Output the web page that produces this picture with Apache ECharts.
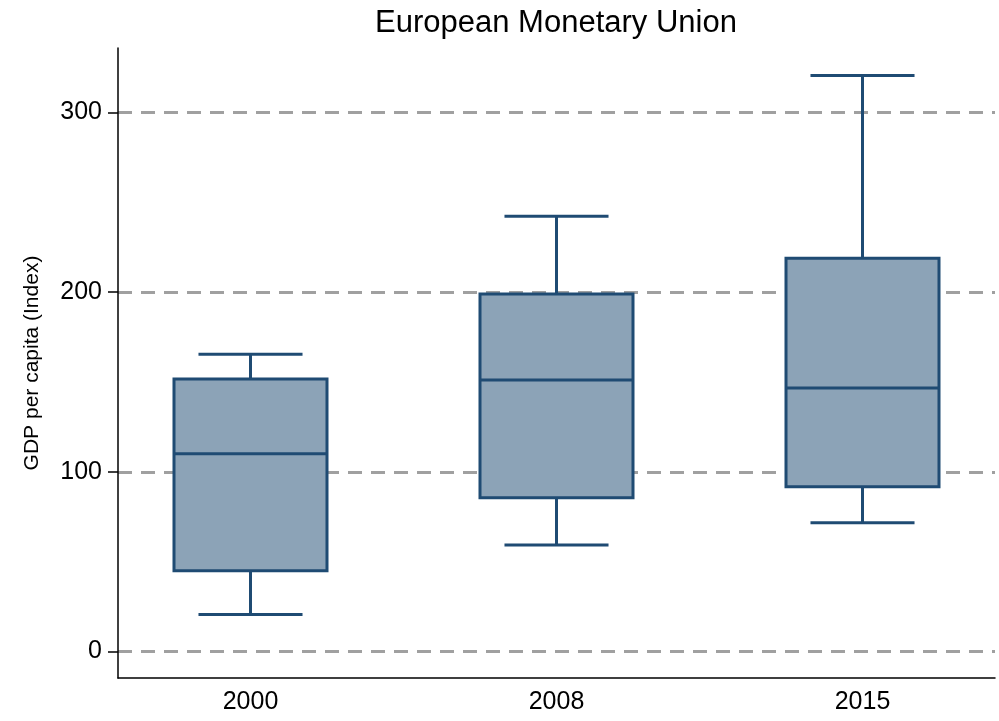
<!DOCTYPE html>
<html>
<head>
<meta charset="utf-8">
<title>European Monetary Union</title>
<script src="https://cdn.jsdelivr.net/npm/echarts@6/dist/echarts.min.js"></script>
<style>
  html, body { margin: 0; padding: 0; background: #fff; }
  #chart { width: 999px; height: 721px; }
</style>
</head>
<body>
<div id="chart"></div>
<script>
// box plot values (GDP per capita index)
const years = ['2000', '2008', '2015'];
const whiskerLow = [20.6, 59.3, 71.6];
const q1 = [44.9, 85.5, 91.6];
const median = [110.1, 151.1, 146.7];
const q3 = [151.7, 198.9, 218.8];
const whiskerHigh = [165.4, 242.2, 320.6];
const yTicks = [0, 100, 200, 300];

const FONT = '"Liberation Sans", Arial, sans-serif';
const EDGE = '#1f4b73';
const FILL = '#8ca3b7';
const BOX_WIDTH = 0.5;   // in x units (one unit per year)
const CAP_WIDTH = 0.34;

const boxData = years.map((y, i) => [i, whiskerLow[i], q1[i], median[i], q3[i], whiskerHigh[i]]);

// draws one box with whiskers, positions come from the axes via api.coord
function renderBox(params, api) {
  const x = api.value(0);
  const at = k => api.coord([x, api.value(k)]);
  const lo = at(1), b1 = at(2), md = at(3), b3 = at(4), hi = at(5);
  const cx = lo[0];
  const half = api.size([BOX_WIDTH, 0])[0] / 2;
  const capHalf = api.size([CAP_WIDTH, 0])[0] / 2;
  const line = { stroke: EDGE, lineWidth: 3 };
  return {
    type: 'group',
    children: [
      { type: 'line', shape: { x1: cx, y1: hi[1], x2: cx, y2: b3[1] }, style: line },
      { type: 'line', shape: { x1: cx, y1: b1[1], x2: cx, y2: lo[1] }, style: line },
      { type: 'line', shape: { x1: cx - capHalf, y1: hi[1], x2: cx + capHalf, y2: hi[1] }, style: line },
      { type: 'line', shape: { x1: cx - capHalf, y1: lo[1], x2: cx + capHalf, y2: lo[1] }, style: line },
      {
        type: 'rect',
        shape: { x: cx - half, y: b3[1], width: half * 2, height: b1[1] - b3[1] },
        style: { fill: FILL, stroke: EDGE, lineWidth: 3 }
      },
      { type: 'line', shape: { x1: cx - half, y1: md[1], x2: cx + half, y2: md[1] }, style: line }
    ]
  };
}

const chart = echarts.init(document.getElementById('chart'));

chart.setOption({
  backgroundColor: '#ffffff',
  animation: false,
  title: {
    text: 'European Monetary Union',
    left: 556,
    textAlign: 'center',
    top: 8,
    padding: 0,
    textStyle: { fontFamily: FONT, fontSize: 31, fontWeight: 'normal', color: '#000' }
  },
  grid: { left: 118, right: 4, top: 48, bottom: 43 },
  xAxis: {
    type: 'value',
    min: -0.433,
    max: 2.433,
    axisLine: { show: true, onZero: false, lineStyle: { color: '#000', width: 1.5 } },
    axisTick: { show: false },
    splitLine: { show: false },
    axisLabel: {
      customValues: [0, 1, 2],
      formatter: v => years[Math.round(v)],
      margin: 12,
      fontFamily: FONT,
      fontSize: 25,
      color: '#000'
    }
  },
  yAxis: {
    type: 'value',
    min: -14.8,
    max: 335.9,
    name: 'GDP per capita (Index)',
    nameLocation: 'middle',
    nameGap: 75,
    nameTextStyle: { fontFamily: FONT, fontSize: 21, color: '#000' },
    axisLine: { show: true, onZero: false, lineStyle: { color: '#000', width: 1.5 } },
    axisTick: { show: true, customValues: yTicks, length: 10, lineStyle: { color: '#000', width: 1.5 } },
    axisLabel: {
      customValues: yTicks,
      margin: 16,
      fontFamily: FONT,
      fontSize: 25,
      color: '#000'
    },
    splitLine: {
      show: true,
      lineStyle: { color: '#a0a0a0', width: 3, type: [14, 9] }
    }
  },
  series: [{
    type: 'custom',
    renderItem: renderBox,
    data: boxData,
    encode: { x: 0, y: [1, 2, 3, 4, 5] }
  }]
});
</script>
</body>
</html>
